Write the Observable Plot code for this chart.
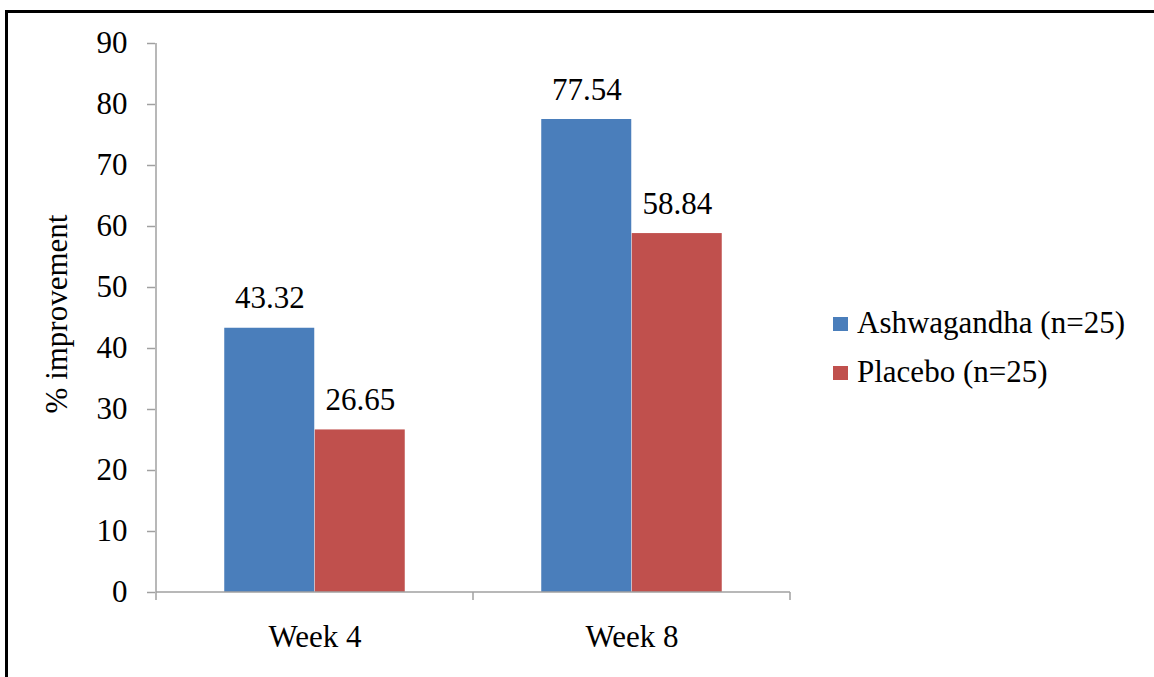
<!DOCTYPE html>
<html>
<head>
<meta charset="utf-8">
<script src="https://cdn.jsdelivr.net/npm/d3@7"></script>
<script src="https://cdn.jsdelivr.net/npm/@observablehq/plot@0.6"></script>
<style>
  html, body { margin: 0; padding: 0; background: #fff; }
  #wrap { position: relative; width: 1154px; height: 677px; overflow: hidden; }
  #border { position: absolute; left: 5px; top: 10px; width: 1200px; height: 700px;
            border-top: 3px solid #000; border-left: 3px solid #000; box-sizing: border-box; }
  #chart { position: absolute; left: 0; top: 0; }
  #chart [aria-label^="y-axis"] line,
  #chart [aria-label="y-axis tick"] path { stroke: #a0a0a0; stroke-width: 1.5; }
  .swatch { position: absolute; width: 15px; height: 14px; }
</style>
</head>
<body>
<div id="wrap">
  <div id="border"></div>
  <div id="chart"></div>
  <div id="legend"></div>
</div>
<script>
// Percentage improvement by visit, two treatment groups
const weeks = ["Week 4", "Week 8"];
const seriesNames = ["Ashwagandha (n=25)", "Placebo (n=25)"];
const ashwagandha = [43.32, 77.54];
const placebo = [26.65, 58.84];
const seriesColors = ["#4a7ebb", "#c0504d"];
const yLabel = "% improvement";

const seriesValues = [ashwagandha, placebo];
const rows = weeks.flatMap((week, i) =>
  seriesNames.map((series, j) => ({week, series, value: seriesValues[j][i]}))
);

const serif = "Times New Roman";

// layout
const W = 800, H = 677;
const margin = {top: 43, right: 10, bottom: 85, left: 155};
const band = (W - margin.left - margin.right) / weeks.length;
const barWidth = 90.5;
const half = band / 2;

// grey axis line, y-axis spine and category boundary ticks
function axisLines(index, scales, values, dimensions) {
  const x = scales.x, y = scales.y;
  const y0 = y(0), yTop = y(90);
  let edges;
  if (x && typeof x.bandwidth === "function") {
    edges = weeks.map(w => x(w));
    edges.push(x(weeks[weeks.length - 1]) + x.bandwidth());
  } else {
    const d = dimensions;
    const step = (d.width - d.marginLeft - d.marginRight) / weeks.length;
    edges = d3.range(weeks.length + 1).map(i => d.marginLeft + i * step);
  }
  const g = d3.create("svg:g").attr("stroke", "#a0a0a0").attr("stroke-width", 1.5);
  g.append("line").attr("x1", edges[0]).attr("x2", edges[0]).attr("y1", yTop).attr("y2", y0);
  g.append("line").attr("x1", edges[0]).attr("x2", edges[edges.length - 1]).attr("y1", y0).attr("y2", y0);
  for (const e of edges) {
    g.append("line").attr("x1", e).attr("x2", e).attr("y1", y0).attr("y2", y0 + 8);
  }
  return g.node();
}

const marks = [];
seriesNames.forEach((name, j) => {
  const data = rows.filter(d => d.series === name);
  const offset = (j - 0.5) * barWidth; // bar center relative to band center
  marks.push(Plot.barY(data, {
    x: "week", y: "value", fill: "series",
    insetLeft: half + offset - barWidth / 2,
    insetRight: half - offset - barWidth / 2
  }));
  marks.push(Plot.text(data, {
    x: "week", y: "value", text: d => d.value.toFixed(2),
    dx: offset, dy: -20, lineAnchor: "bottom", fill: "#000", fontFamily: serif
  }));
});
marks.push(axisLines);
marks.push(Plot.text([yLabel], {
  frameAnchor: "left", text: d => d, rotate: -90,
  dx: -98, dy: -4, textAnchor: "middle", lineAnchor: "middle", fill: "#000", fontFamily: serif
}));

const chart = Plot.plot({
  width: W, height: H,
  marginTop: margin.top, marginRight: margin.right,
  marginBottom: margin.bottom, marginLeft: margin.left,
  style: {fontFamily: serif, fontSize: "31px",
          color: "#000", background: "transparent", overflow: "visible"},
  x: {domain: weeks, padding: 0, tickSize: 0, tickPadding: 32, label: null},
  y: {domain: [0, 90], ticks: 10, tickSize: 8, tickPadding: 20, label: null},
  color: {domain: seriesNames, range: seriesColors},
  marks
});
// every label in the serif face
d3.select(chart).selectAll("text").attr("font-family", serif).style("font-family", serif);
document.getElementById("chart").appendChild(chart);

// legend to the right of the plot
const legend = document.getElementById("legend");
seriesNames.forEach((name, j) => {
  const rowTop = 307 + j * 49;
  const sw = document.createElement("div");
  sw.className = "swatch";
  sw.style.left = "833px";
  sw.style.top = (rowTop + 10) + "px";
  sw.style.background = seriesColors[j];
  legend.appendChild(sw);
  const label = document.createElement("div");
  label.setAttribute("style",
    "position:absolute;left:857px;top:" + rowTop + "px;font-family:'Times New Roman';" +
    "font-size:31px;line-height:31px;color:#000;white-space:nowrap");
  label.textContent = name;
  legend.appendChild(label);
});
</script>
</body>
</html>
